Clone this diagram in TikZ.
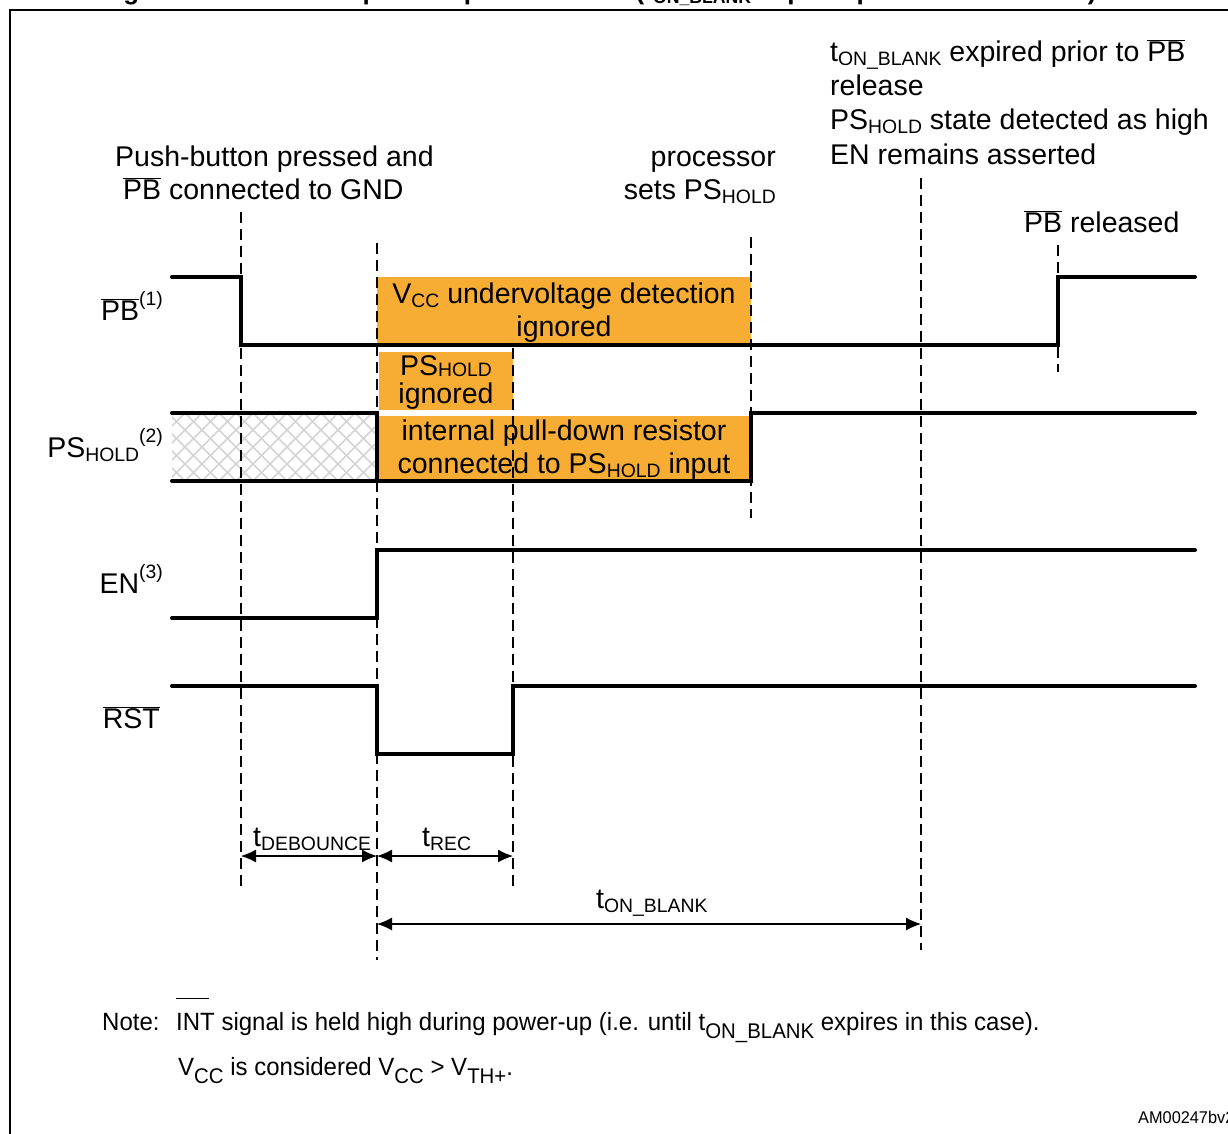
\documentclass[tikz,border=0pt]{standalone}
\usepackage{fontspec}
\setmainfont{Liberation Sans}
\newfontfamily\notefont[FakeStretch=0.96]{Liberation Sans}
\usepackage{graphicx}
\usetikzlibrary{arrows.meta}
\definecolor{ignoreorange}{RGB}{247,173,51}
\newcommand\lo[1]{\raisebox{-0.16em}{\scalebox{0.68}{#1}}}
\newcommand\nlo[1]{\raisebox{-0.32em}{\scalebox{0.85}{#1}}}
\newcommand\hi[1]{\raisebox{0.5em}{\scalebox{0.68}{#1}}}
\newcommand\ovl[1]{$\overline{\mbox{#1}}$}

\begin{document}
\begin{tikzpicture}[x=1pt,y=-1pt,
		every node/.style={inner sep=0pt,font=\fontsize{28.5}{34}\selectfont},
		wave/.style={line width=4pt,line cap=round},
		timeline/.style={line width=1.5pt,dash pattern=on 11pt off 6pt},
		ignorebox/.style={fill=ignoreorange},
		hatch/.style={line width=1.5pt,draw=black!17},
		dimline/.style={line width=1.2pt,{Latex[length=15pt,width=13pt]}-{Latex[length=15pt,width=13pt]}},
		notetext/.style={font=\notefont\fontsize{25}{30}\selectfont}]
	\useasboundingbox (0,0) rectangle (1228,1133);
	\fill[white] (0,0) rectangle (1228,1133);
	\begin{scope}
		\clip (0,0) rectangle (1228,1133);
		\node[anchor=base west,font=\bfseries\fontsize{26}{26}\selectfont] (title) at (100,-1) {Figure 5. Successful power-up in PS mode (t\lo{ON\_BLANK} expires prior to \ovl{PB} release)};
		\draw[line width=2pt] (10,10) rectangle (1240,1145);
	\end{scope}
	
	% ignored windows
	\fill[ignorebox] (377,277) rectangle (751,344);
	\fill[ignorebox] (379,352) rectangle (513,410);
	\fill[ignorebox] (377,416) rectangle (751,481);
	
	% PS_HOLD undefined before t_DEBOUNCE
	\begin{scope}
		\clip (172,413) rectangle (377,481);
		\foreach \s in {100,117,...,380} {
			\draw[hatch] (\s,481) -- (\s+68,413);
			\draw[hatch] (\s,413) -- (\s+68,481);
		}
	\end{scope}
	
	% time marks
	\draw[timeline] (241,212) -- (241,890);
	\draw[timeline] (377,243) -- (377,960);
	\draw[timeline] (513,348) -- (513,890);
	\draw[timeline] (751,237) -- (751,518);
	\draw[timeline] (921,178) -- (921,950);
	\draw[timeline] (1058,245) -- (1058,372);
	
	\node[anchor=base] (vccign) at (564,303) {V\lo{CC} undervoltage detection};
	\node[anchor=base] (vccign2) at (564,336) {ignored};
	\node[anchor=base] (psign) at (446,375) {PS\raisebox{-0.05em}{\scalebox{0.68}{HOLD}}};
	\node[anchor=base] (psign2) at (446,403) {ignored};
	\node[anchor=base] (pulldown) at (564,440) {internal pull-down resistor};
	\node[anchor=base] (pulldown2) at (564,473) {connected to PS\lo{HOLD} input};
	
	% waveforms
	\draw[wave] (172,277) -- (241,277) -- (241,345) -- (1058,345) -- (1058,277) -- (1195,277);
	\draw[wave] (172,413) -- (377,413) -- (377,481);
	\draw[wave] (172,481) -- (751,481) -- (751,413) -- (1195,413);
	\draw[wave] (172,618) -- (377,618) -- (377,550) -- (1195,550);
	\draw[wave] (172,686) -- (377,686) -- (377,754) -- (513,754) -- (513,686) -- (1195,686);
	
	\node[anchor=base east] (pb) at (163,320) {\ovl{PB}\hi{(1)}};
	\node[anchor=base east] (pshold) at (163,457) {PS\lo{HOLD}\hi{(2)}};
	\node[anchor=base east] (en) at (163,593) {EN\hi{(3)}};
	\node[anchor=base east] (rst) at (160,728) {\ovl{RST}};
	
	% events
	\node[anchor=base west] (pressed) at (115,166) {Push-button pressed and};
	\node[anchor=base west] (pressed2) at (123,199) {\ovl{PB} connected to GND};
	\node[anchor=base east] (proc) at (776,166) {processor};
	\node[anchor=base east] (proc2) at (776,199) {sets PS\lo{HOLD}};
	\node[anchor=base west] (expired) at (830,61) {t\lo{ON\_BLANK} expired prior to \ovl{PB}};
	\node[anchor=base west] (expired2) at (830,95) {release};
	\node[anchor=base west] (expired3) at (830,129) {PS\lo{HOLD} state detected as high};
	\node[anchor=base west] (expired4) at (830,164) {EN remains asserted};
	\node[anchor=base west] (released) at (1024,232) {\ovl{PB} released};
	
	% timings
	\coordinate (deb-start) at (241,856);
	\coordinate (deb-end) at (377,856);
	\coordinate (rec-end) at (513,856);
	\coordinate (blank-start) at (377,924);
	\coordinate (blank-end) at (921,924);
	\draw[dimline] (deb-start) -- (deb-end);
	\draw[dimline] (deb-end) -- (rec-end);
	\draw[dimline] (blank-start) -- (blank-end);
	\node[anchor=base west] (tdeb) at (253,846) {t\lo{DEBOUNCE}};
	\node[anchor=base west] (trec) at (422,846) {t\lo{REC}};
	\node[anchor=base west] (tblank) at (596,908) {t\lo{ON\_BLANK}};
	
	% note
	\node[notetext,anchor=base west] (note) at (102,1030) {Note:};
	\node[notetext,anchor=base west] (note1) at (176,1030) {\makebox[0pt][l]{\rule[31pt]{33pt}{1.3pt}}INT signal is held high during power-up (i.e. until t\nlo{ON\_BLANK} expires in this case).};
	\node[notetext,anchor=base west] (note2) at (178,1075) {V\nlo{CC} is considered V\nlo{CC} > V\nlo{TH+}.};
	\node[notetext,anchor=base west,font=\notefont\fontsize{17}{17}\selectfont] (code) at (1138,1123) {AM00247bv2};
\end{tikzpicture}
\end{document}
